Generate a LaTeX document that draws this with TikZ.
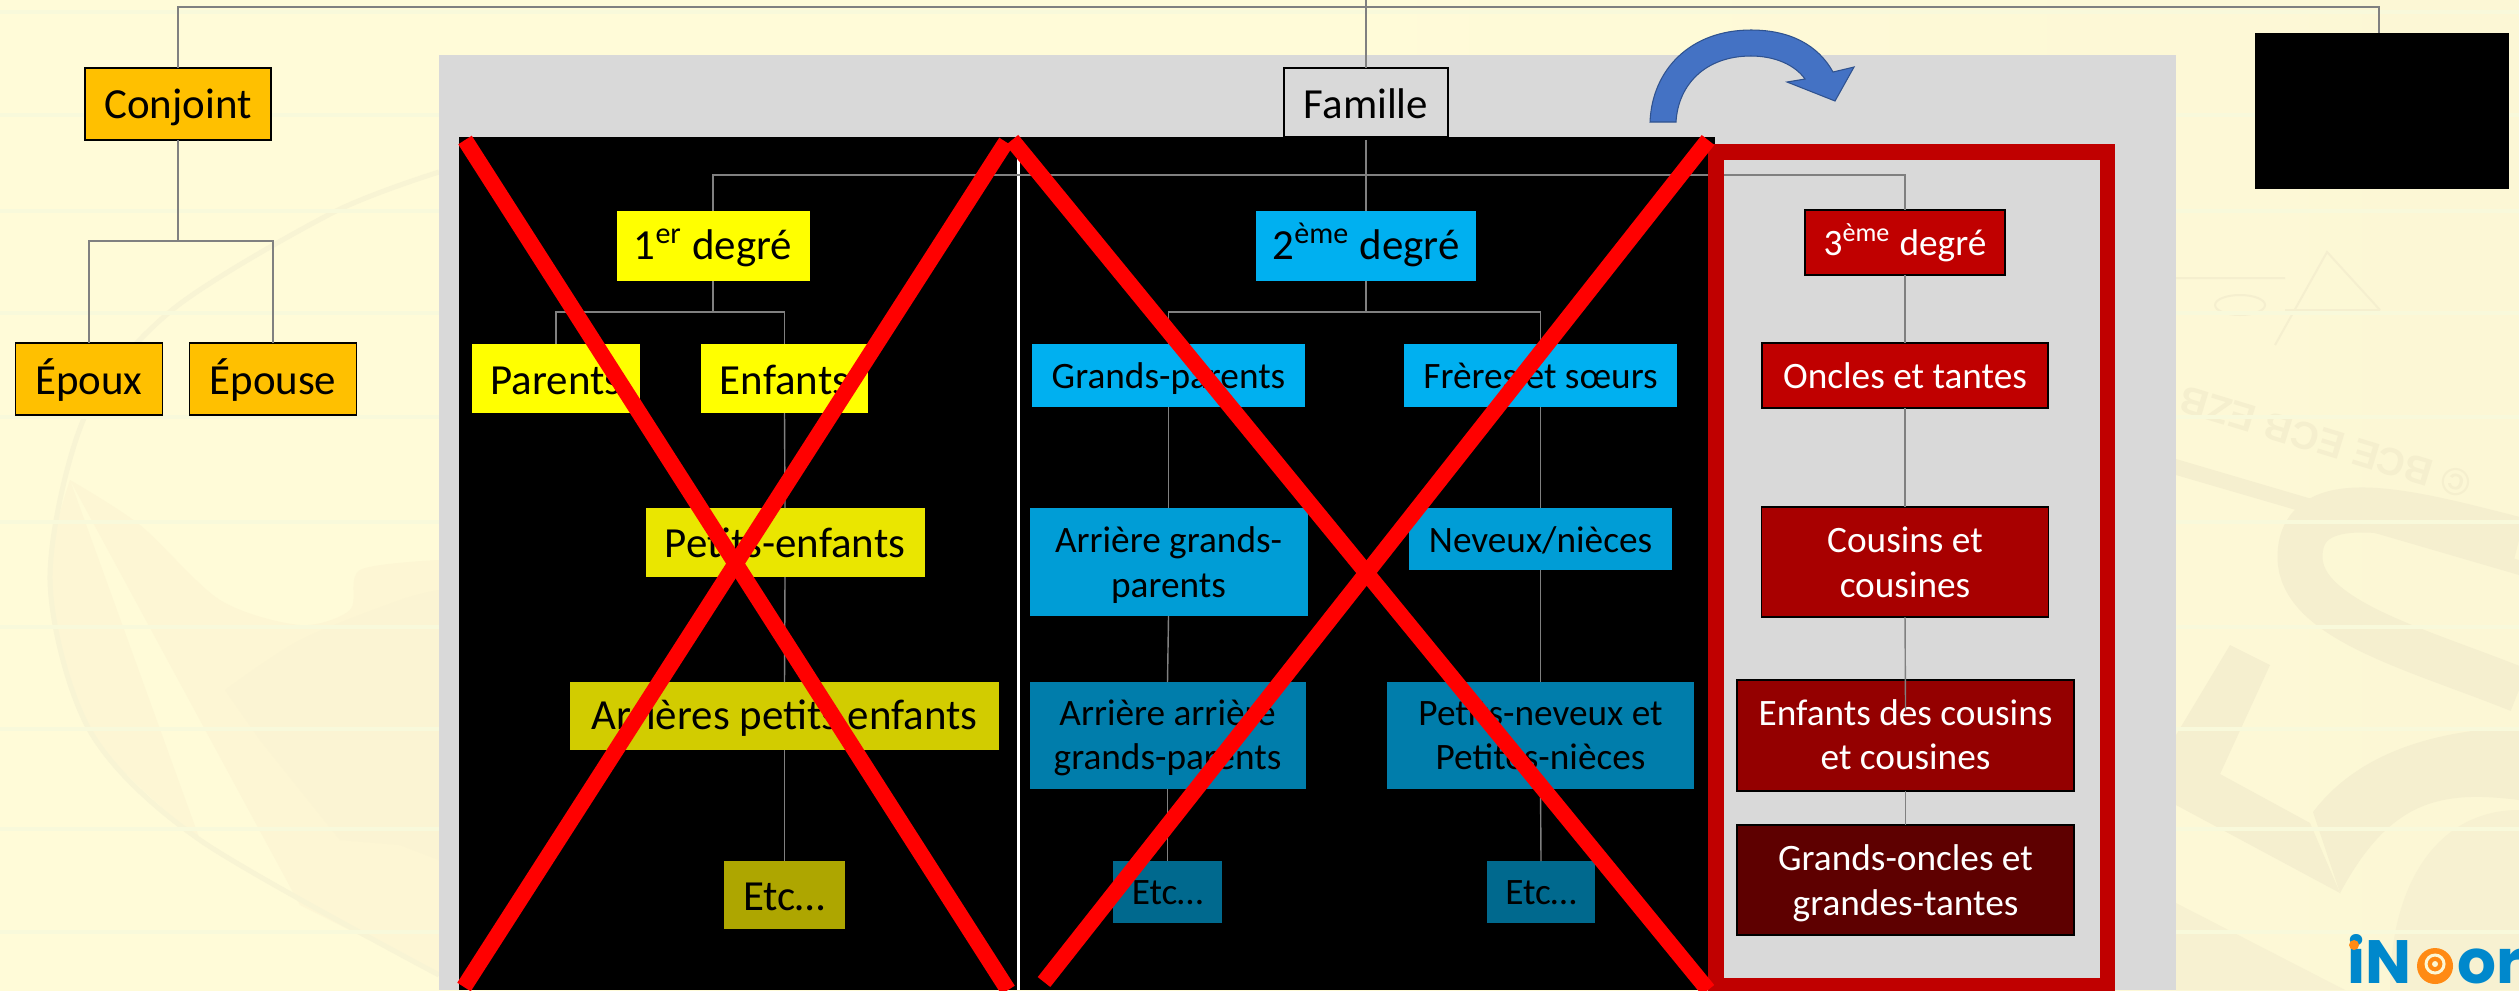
\documentclass[tikz,border=0pt]{standalone}
\usepackage{fontspec}
\setmainfont{Carlito}
\newfontfamily\logofont{Poppins}
\newfontfamily\wmfont{Liberation Sans}
\definecolor{bgl}{HTML}{FFFBD8}
\definecolor{bgr}{HTML}{FCF7D5}
\definecolor{wm}{HTML}{F5EFCF}
\definecolor{wmtextc}{HTML}{F5EFCE}
\definecolor{wmline}{HTML}{F8F9DB}
\definecolor{wmwarm}{HTML}{FDF6D4}
\definecolor{wmarc}{HTML}{F8F4D4}
\definecolor{panel}{HTML}{D9D9D9}
\definecolor{conn}{HTML}{808080}
\definecolor{orangeb}{HTML}{FFC000}
\definecolor{ya}{HTML}{FFFF00}
\definecolor{yb}{HTML}{EAE600}
\definecolor{yc}{HTML}{D2CC00}
\definecolor{yd}{HTML}{AEA600}
\definecolor{ba}{HTML}{00B0F0}
\definecolor{bb}{HTML}{009DD6}
\definecolor{bc}{HTML}{007DAB}
\definecolor{bd}{HTML}{00698E}
\definecolor{ra}{HTML}{C00000}
\definecolor{rb}{HTML}{A80000}
\definecolor{rc}{HTML}{940000}
\definecolor{rd}{HTML}{5E0000}
\definecolor{arrowfill}{HTML}{4472C4}
\definecolor{arrowedge}{HTML}{2F528F}
\definecolor{logob}{HTML}{0088CC}
\definecolor{logoo}{HTML}{FF8A14}
% one line of box text, its baseline #1 px under the centre of its place
\newcommand{\tl}[2]{\raisebox{-#1\dimexpr0.01cm\relax}[0pt][0pt]{#2}}
\tikzset{
  x=0.01cm,y=-0.01cm,
  sz/.style 2 args={minimum width=#1*0.01cm,minimum height=#2*0.01cm},
  boxbase/.style={rectangle,inner sep=0pt,outer sep=0pt,align=center},
  big/.style={font=\fontsize{12.2pt}{12.8pt}\selectfont},
  small/.style={font=\fontsize{10.6pt}{12.75pt}\selectfont},
  edged/.style={boxbase,draw=black,line width=0.5pt},
  plain/.style={boxbase},
  whitetext/.style={text=white},
  conn/.style={draw=conn,line width=0.4pt},
  cross/.style={draw=red,line width=0.16cm},
  wmstroke/.style={draw=wm,line cap=butt},
}
\begin{document}
\begin{tikzpicture}
\useasboundingbox (0,0) rectangle (2519,990);
\shade[left color=bgl,right color=bgr,middle color=bgl] (0,0) rectangle (2519,990);
% faint page background: left side
\fill[wmwarm] plot[smooth] coordinates {(70,480) (140,525) (220,600) (300,625) (350,610) (360,570) (439,560)}
  -- (439,975) -- (300,905) plot[smooth] coordinates {(200,840) (90,731) (50,580) (70,480)} -- cycle;
\fill[wm!25!wmwarm] plot[smooth] coordinates {(225,690) (300,640) (400,600) (439,590)} -- (439,860) -- (400,845) -- (340,840) -- (260,740) -- cycle;
\draw[wmarc,line width=0.05cm] plot[smooth] coordinates {(439,172) (332,213) (172,310) (85,416) (50,580) (90,731) (200,840) (439,975)};
% faint page background: right side
\fill[wm] (2176,459) -- (2519,560) -- (2519,575) -- (2176,475) -- cycle;
\draw[wmstroke,line width=0.45cm] (2519,540) .. controls (2420,515) and (2300,480) .. (2300,557) .. controls (2300,620) and (2420,650) .. (2519,690);
\fill[wm] (2230,645) -- (2270,665) -- (2220,774) -- (2310,823) -- (2340,893) -- (2176,805) -- (2176,735) -- cycle;
\fill[wm] (2313,812) .. controls (2360,750) and (2440,730) .. (2519,727) -- (2519,800) .. controls (2440,790) and (2390,800) .. (2340,893) -- cycle;
\fill[wm!70!bgr] (2176,903) -- (2345,990) -- (2176,990) -- cycle;
\fill[wm!70!bgr] (2390,990) .. controls (2390,880) and (2440,810) .. (2519,810) -- (2519,990) -- cycle;
\node[rotate=163,text=wmtextc,font=\wmfont\bfseries\fontsize{11pt}{11pt}\selectfont,inner sep=0pt] (wmtext) at (2325,442) {© BCE ECB EZB};
\draw[wm,line width=0.02cm] (2275,345) -- (2327,252) -- (2380,310) (2176,278) -- (2285,278) (2285,310) -- (2380,310);
\draw[wm,line width=0.02cm] (2240,305) ellipse (25 and 10);
% ruled lines of the page
\foreach \ry in {12,115,211,313,417,522,627,729,829,932}
  \draw[wmline,line width=0.04cm] (0,\ry) -- (2519,\ry);

% panels
\fill[panel] (439,55) rectangle (2176,990);
\fill[black] (459,137) rectangle (1715,990);
\fill[black] (2255,33) rectangle (2509,189);
\draw[white,line width=0.03cm] (1018.5,137) -- (1018.5,990);

% nodes
\node[edged,big,fill=orangeb,sz={186}{72}] (conjoint) at (178,104) {\tl{14.5}{Conjoint}};
\node[edged,big,fill=orangeb,sz={147}{72}] (epoux) at (89,379) {\tl{15}{Époux}};
\node[edged,big,fill=orangeb,sz={167}{72}] (epouse) at (273,379) {\tl{15}{Épouse}};
\node[edged,big,fill=panel,sz={164}{69}] (famille) at (1366,102.5) {\tl{15.5}{Famille}};
\coordinate (hub) at (1366,175);
\coordinate (blackbox) at (2379,33);

\node[plain,big,fill=ya,sz={193}{70}] (d1) at (713,246) {\tl{13}{1\textsuperscript{er} degré}};
\node[plain,big,fill=ya,sz={168}{69}] (parents) at (556,378.5) {\tl{15.5}{Parents}};
\node[plain,big,fill=ya,sz={167}{69}] (enfants) at (784.5,378.5) {\tl{15.5}{Enfants}};
\node[plain,big,fill=yb,sz={279}{69}] (pe) at (785,542.5) {\tl{14.5}{Petits-enfants}};
\node[plain,big,fill=yc,sz={429}{68}] (ape) at (784.5,716) {\tl{13.5}{Arrières petits enfants}};
\node[plain,big,fill=yd,sz={121}{68}] (etca) at (784.5,895) {\tl{15.5}{Etc…}};

\node[plain,big,fill=ba,sz={220}{70}] (d2) at (1366,246) {\tl{13}{2\textsuperscript{ème} degré}};
\node[plain,small,fill=ba,sz={273}{63}] (gp) at (1168.5,375.5) {\tl{12.5}{Grands-parents}};
\node[plain,small,fill=ba,sz={273}{63}] (fs) at (1540.5,375.5) {\tl{12.5}{Frères et sœurs}};
\node[plain,small,fill=bb,sz={278}{108}] (agp) at (1168.5,562) {\tl{13}{Arrière grands-}\\\tl{13}{parents}};
\node[plain,small,fill=bb,sz={263}{62}] (nn) at (1540.5,539) {\tl{13}{Neveux/nièces}};
\node[plain,small,fill=bc,sz={276}{107}] (aagp) at (1167.5,735.5) {\tl{12}{Arrière arrière}\\\tl{12}{grands-parents}};
\node[plain,small,fill=bc,sz={307}{107}] (pn) at (1540.5,735.5) {\tl{12}{Petits-neveux et}\\\tl{12}{Petites-nièces}};
\node[plain,small,fill=bd,sz={109}{62}] (etcb) at (1167.5,892) {\tl{12.5}{Etc…}};
\node[plain,small,fill=bd,sz={108}{62}] (etcc) at (1541,892) {\tl{12.5}{Etc…}};

\node[edged,small,whitetext,fill=ra,sz={200}{65}] (d3) at (1905,242.5) {\tl{12.5}{3\textsuperscript{ème} degré}};
\node[edged,small,whitetext,fill=ra,sz={286}{65}] (oncles) at (1905,375.5) {\tl{12.5}{Oncles et tantes}};
\node[edged,small,whitetext,fill=rb,sz={287}{110}] (cousins) at (1905,562) {\tl{13}{Cousins et}\\\tl{13}{cousines}};
\node[edged,small,whitetext,fill=rc,sz={337}{111}] (ecc) at (1905.5,735.5) {\tl{12}{Enfants des cousins}\\\tl{12}{et cousines}};
\node[edged,small,whitetext,fill=rd,sz={337}{110}] (go) at (1905.5,880) {\tl{13}{Grands-oncles et}\\\tl{13}{grandes-tantes}};

% connectors
\coordinate (tr) at (2379,7);
\coordinate (top0) at (1366,0);
\path[conn] (top0) -- (famille.north);
\path[conn] (conjoint.north) |- (tr) -- (blackbox);
\path[conn] (conjoint.south) -- ++(0,101) -| (epoux.north);
\path[conn] (conjoint.south) -- ++(0,101) -| (epouse.north);
\path[conn] (1366,140) -- (hub);
\path[conn] (d1.north) |- (hub);
\path[conn] (hub) -- (d2.north);
\path[conn] (hub) -| (d3.north);
\path[conn] (d1.south) -- ++(0,31) -| (parents.north);
\path[conn] (d1.south) -- ++(0,31) -| (enfants.north);
\path[conn] (d2.south) -- ++(0,31) -| (gp.north);
\path[conn] (d2.south) -- ++(0,31) -| (fs.north);
\path[conn] (enfants.south) -- (pe.north);
\path[conn] (pe.south) -- (ape.north);
\path[conn] (ape.south) -- (etca.north);
\path[conn] (gp.south) -- (agp.north);
\path[conn] (agp.south) -- (aagp.north);
\path[conn] (aagp.south) -- (etcb.north);
\path[conn] (fs.south) -- (nn.north);
\path[conn] (nn.south) -- (pn.north);
\path[conn] (pn.south) -- (etcc.north);
\path[conn] (d3.south) -- (oncles.north);
\path[conn] (oncles.south) -- (cousins.north);
\path[conn] (cousins.south) -- (1905.5,710);
\path[conn] (ecc.south) -- (go.north);

% red frame
\draw[ra,line width=0.155cm] (1716,152) rectangle (2107.5,985.5);

% crosses
\draw[cross] (465,140) -- (1008,990);
\draw[cross] (1006,142) -- (464,987);
\draw[cross] (1012,140) -- (1708,990);
\draw[cross] (1708,140) -- (1044,982);

% curved arrow
\draw[fill=arrowfill,draw=arrowedge,line width=0.3pt]
  (1650,122) .. controls (1652,70) and (1690,30) .. (1751,30)
  .. controls (1790,30) and (1818,45) .. (1833,72)
  -- (1854,67) -- (1835,101) -- (1787,82) -- (1805,79)
  .. controls (1795,65) and (1775,56) .. (1751,56)
  .. controls (1705,56) and (1678,85) .. (1676,122) -- cycle;

% logo
\node[boxbase,anchor=base west,font=\logofont\bfseries\fontsize{17.4pt}{17.4pt}\selectfont,text=logob] (logoa) at (2347,983) {iN};
\node[boxbase,anchor=base west,font=\logofont\bfseries\fontsize{17.4pt}{17.4pt}\selectfont,text=logob] (logob) at (2457,983) {or};
\fill[logoo] (2354,945) circle (5);
\fill[logoo] (2435,966) circle (18);
\draw[bgr,line width=0.03cm] (2435,964) circle (9);
\fill[bgr] (2435,964) circle (3);
\end{tikzpicture}
\end{document}
